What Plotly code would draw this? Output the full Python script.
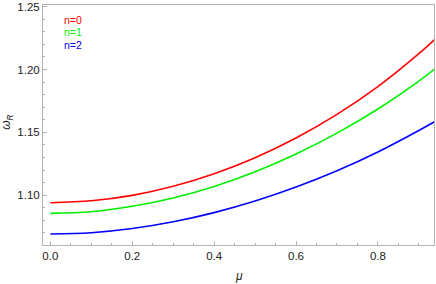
import plotly.graph_objects as go

mu = [0.0, 0.1, 0.2, 0.3, 0.4, 0.5, 0.6, 0.7, 0.8, 0.9, 0.94]
omega_n0 = [1.0940, 1.0955, 1.0998, 1.1070, 1.1170, 1.1298, 1.1455, 1.1643, 1.1864, 1.2126, 1.2243]
omega_n1 = [1.0855, 1.0868, 1.0911, 1.0977, 1.1069, 1.1186, 1.1328, 1.1494, 1.1686, 1.1908, 1.2008]
omega_n2 = [1.0690, 1.0701, 1.0734, 1.0788, 1.0861, 1.0953, 1.1064, 1.1194, 1.1344, 1.1515, 1.1588]
series_names = ["n=0", "n=1", "n=2"]
colors = ["#ff0000", "#00f000", "#0000ff"]
x_ticks = [0.0, 0.2, 0.4, 0.6, 0.8]
x_tick_labels = ["0.0", "0.2", "0.4", "0.6", "0.8"]
y_ticks = [1.10, 1.15, 1.20, 1.25]
y_tick_labels = ["1.10", "1.15", "1.20", "1.25"]

fig = go.Figure()
for name, ys, c in zip(series_names, [omega_n0, omega_n1, omega_n2], colors):
    fig.add_trace(go.Scatter(x=mu, y=ys, mode="lines", name=name,
                             line=dict(color=c, width=1.6, shape="spline"),
                             showlegend=False, hoverinfo="skip"))

font = "Liberation Sans, Arial, sans-serif"
axis_common = dict(
    showline=True, linecolor="#b3b3b3", linewidth=1, mirror=True,
    showgrid=False, zeroline=False,
    ticks="inside", ticklen=4, tickcolor="#b3b3b3", tickwidth=1,
    ticklabeloverflow="allow",
    tickfont=dict(family=font, size=11.5, color="#222222"),
)
fig.update_xaxes(range=[-0.018, 0.937], tickvals=x_ticks, ticktext=x_tick_labels,
                 minor=dict(ticks="inside", dtick=0.05, ticklen=2, tickcolor="#b3b3b3"),
                 **axis_common)
fig.update_yaxes(range=[1.0603, 1.2514], tickvals=y_ticks, ticktext=y_tick_labels,
                 minor=dict(ticks="inside", dtick=0.01, ticklen=2, tickcolor="#b3b3b3"),
                 **axis_common)

for i, (name, c) in enumerate(zip(series_names, colors)):
    fig.add_annotation(text=name, xref="paper", yref="paper",
                       x=(62 - 43) / 392, y=(245.3 - (18.3 + 12.5 * i)) / 242,
                       xanchor="left", yanchor="middle", showarrow=False,
                       font=dict(family=font, size=10.5, color=c))

fig.add_annotation(text="<i>μ</i>", xref="paper", yref="paper",
                   x=(239 - 43) / 392, y=-(277 - 245.3) / 242,
                   xanchor="center", yanchor="middle", showarrow=False,
                   font=dict(family=font, size=12, color="#222222"))
fig.add_annotation(text="<i>ω</i><sub><i>R</i></sub>", xref="paper", yref="paper",
                   x=-(43 - 7) / 392, y=(245.3 - 122) / 242, textangle=-90,
                   xanchor="center", yanchor="middle", showarrow=False,
                   font=dict(family=font, size=12, color="#222222"))

fig.update_layout(width=436, height=284, margin=dict(l=43, r=1, t=3, b=39),
                  plot_bgcolor="white", paper_bgcolor="white")
fig.write_html("out.html", config={"displayModeBar": False, "staticPlot": True},
               post_script="document.body.style.margin='0';document.body.style.padding='0';document.body.style.overflow='hidden';")
